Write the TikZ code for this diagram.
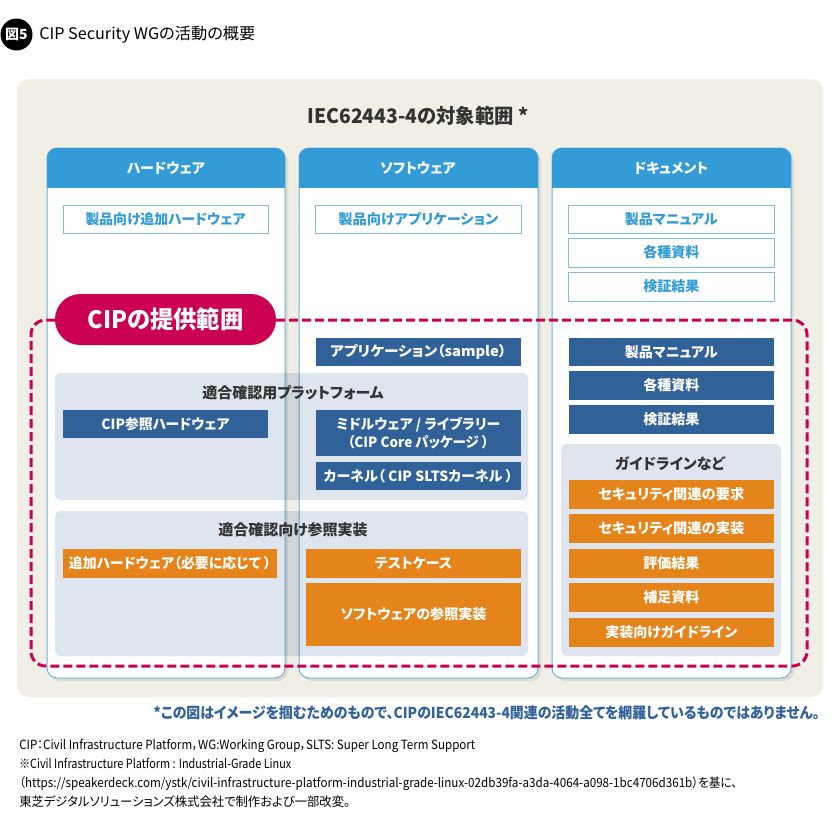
\documentclass[tikz,border=0pt]{standalone}
\usepackage{fontspec}
\usepackage{graphicx}
\setmainfont[RawFeature=+palt]{Noto Sans CJK JP}
\definecolor{beige}{HTML}{F1EEE6}
\definecolor{shade}{HTML}{DEDBCF}
\definecolor{skyb}{HTML}{339CD7}
\definecolor{edgeb}{HTML}{7FBDE3}
\definecolor{navy}{HTML}{316199}
\definecolor{grp}{HTML}{DFE5EF}
\definecolor{orng}{HTML}{E5841B}
\definecolor{crim}{HTML}{CC0052}
\definecolor{ink}{HTML}{333333}
\newcommand{\wide}[2]{\resizebox{\dimexpr #1pt*3/4\relax}{\height}{#2}}
\tikzset{
  x=0.75pt,y=-0.75pt,
  lbl/.style={inner sep=0pt,align=center,font=\fontsize{10.5}{13.5}\selectfont\bfseries},
  outbox/.style={draw=edgeb,line width=0.75pt,fill=white},
  navybox/.style={fill=navy},
  orbox/.style={fill=orng},
  group/.style={fill=grp,rounded corners=4.5pt},
  column/.style={draw=skyb!75,line width=0.75pt,fill=white,rounded corners=7.5pt},
  colshadow/.style={fill=shade,rounded corners=7.5pt},
  head/.style={fill=skyb},
  foot/.style={anchor=base west,inner sep=0pt,font=\fontsize{9.5}{9.5}\selectfont,text=black},
  grouptitle/.style={lbl,text=ink,font=\fontsize{11.25}{13.5}\selectfont\bfseries},
}
\begin{document}
\begin{tikzpicture}
\useasboundingbox (0,0) rectangle (840,829);
\fill[white] (0,0) rectangle (840,829);
% title
\node[circle,fill=black,minimum size=24pt,inner sep=0pt,text=white,font=\fontsize{10.5}{12}\selectfont\bfseries] (badge) at (16.5,34.5) {図5};
\node[anchor=west,inner sep=0pt,text=black,font=\fontsize{12}{14}\selectfont] (title) at (39,35) {\wide{216}{CIP Security WGの活動の概要}};
% background
\fill[beige,rounded corners=9pt] (17,79) rectangle (823,697);
\node[lbl,text=ink,font=\fontsize{15}{18}\selectfont\bfseries] (iec) at (418,116) {\wide{221}{IEC62443-4の対象範囲 *}};
% columns
\foreach \a/\b in {47/285,299/538,552/791}{
  \fill[colshadow] (\a+3,151) rectangle (\b+3,681);
  \draw[column] (\a,148) rectangle (\b,678);
  \fill[head,rounded corners=7.5pt] (\a,148) rectangle (\b,170);
  \fill[head] (\a,160) rectangle (\b,188);
}
\node[lbl,text=white] (h1) at (166,168) {ハードウェア};
\node[lbl,text=white] (h2) at (418,168) {ソフトウェア};
\node[lbl,text=white] (h3) at (671,168) {ドキュメント};
% outline boxes
\draw[outbox] (63,205) rectangle (268,233) node[midway,lbl,text=skyb] (o1) {\wide{160}{製品向け追加ハードウェア}};
\draw[outbox] (315.5,205) rectangle (521,233) node[midway,lbl,text=skyb] (o2) {\wide{160}{製品向けアプリケーション}};
\draw[outbox] (568.5,205) rectangle (774,233) node[midway,lbl,text=skyb] (o3) {製品マニュアル};
\draw[outbox] (568.5,238) rectangle (774,267) node[midway,lbl,text=skyb] (o4) {各種資料};
\draw[outbox] (568.5,272) rectangle (774,301) node[midway,lbl,text=skyb] (o5) {検証結果};
% groups
\begin{scope}[blend mode=multiply]
\fill[group] (55,373) rectangle (528,500);
\fill[group] (55,511) rectangle (528,656);
\fill[group] (561,444) rectangle (781,656);
\end{scope}
\node[grouptitle] (g1) at (293,393) {適合確認用プラットフォーム};
\node[grouptitle] (g2) at (293,530) {適合確認向け参照実装};
\node[grouptitle] (g3) at (670,464) {ガイドラインなど};
% navy boxes
\fill[navybox] (315.5,338) rectangle (521,366) node[midway,lbl,text=white] (n1) {\wide{176}{アプリケーション（sample）}};
\fill[navybox] (568.5,338) rectangle (774,366) node[midway,lbl,text=white] (n2) {製品マニュアル};
\fill[navybox] (568.5,371) rectangle (774,400) node[midway,lbl,text=white] (n3) {各種資料};
\fill[navybox] (568.5,405) rectangle (774,434) node[midway,lbl,text=white] (n4) {検証結果};
\fill[navybox] (63,410) rectangle (268,438) node[midway,lbl,text=white] (n5) {\wide{128}{CIP参照ハードウェア}};
\fill[navybox] (315.5,410) rectangle (521,456) node[midway,lbl,text=white] (n6) {\wide{164}{ミドルウェア / ライブラリー}\\\wide{141}{（CIP Core パッケージ ）}};
\fill[navybox] (315.5,462) rectangle (521,490) node[midway,lbl,text=white] (n7) {\wide{189}{カーネル（ CIP SLTSカーネル ）}};
% orange boxes
\fill[orbox] (63,549) rectangle (277,578) node[midway,lbl,text=white] (a1) {\wide{202}{追加ハードウェア（必要に応じて ）}};
\fill[orbox] (306,549) rectangle (521,578) node[midway,lbl,text=white] (a2) {テストケース};
\fill[orbox] (306,583) rectangle (521,646) node[midway,lbl,text=white] (a3) {\wide{146}{ソフトウェアの参照実装}};
\fill[orbox] (568.5,480) rectangle (774,509) node[midway,lbl,text=white] (a4) {\wide{146}{セキュリティ関連の要求}};
\fill[orbox] (568.5,514) rectangle (774,543) node[midway,lbl,text=white] (a5) {\wide{146}{セキュリティ関連の実装}};
\fill[orbox] (568.5,549) rectangle (774,578) node[midway,lbl,text=white] (a6) {評価結果};
\fill[orbox] (568.5,583) rectangle (774,612) node[midway,lbl,text=white] (a7) {補足資料};
\fill[orbox] (568.5,618) rectangle (774,647) node[midway,lbl,text=white] (a8) {\wide{132}{実装向けガイドライン}};
% CIP range
\draw[crim,line width=2.25pt,dash pattern=on 6.75pt off 3pt,rounded corners=11pt] (276,320) -- (807,320) -- (807,666) -- (31,666) -- (31,320) -- (55,320);
\node[fill=crim,rounded corners=19pt,minimum width=165.75pt,minimum height=38.25pt,inner sep=0pt,text=white,font=\fontsize{18}{20}\selectfont\bfseries] (pill) at (165.5,319.5) {\wide{156}{CIPの提供範囲}};
% notes
\node[anchor=base east,inner sep=0pt,text=navy,font=\fontsize{11.25}{12}\selectfont\bfseries] (note) at (820,718) {\wide{666}{*この図はイメージを掴むためのもので、CIPのIEC62443-4関連の活動全てを網羅しているものではありません。}};
\node[foot] (f1) at (19,749.5) {\wide{456}{CIP：Civil Infrastructure Platform，WG:Working Group，SLTS: Super Long Term Support}};
\node[foot] (f2) at (19,768.5) {\wide{272}{※Civil Infrastructure Platform : Industrial-Grade Linux}};
\node[foot] (f3) at (19,787.5) {\wide{718}{（https://speakerdeck.com/ystk/civil-infrastructure-platform-industrial-grade-linux-02db39fa-a3da-4064-a098-1bc4706d361b）を基に、}};
\node[foot] (f4) at (19,806.5) {\wide{331}{東芝デジタルソリューションズ株式会社で制作および一部改変。}};
\end{tikzpicture}
\end{document}
